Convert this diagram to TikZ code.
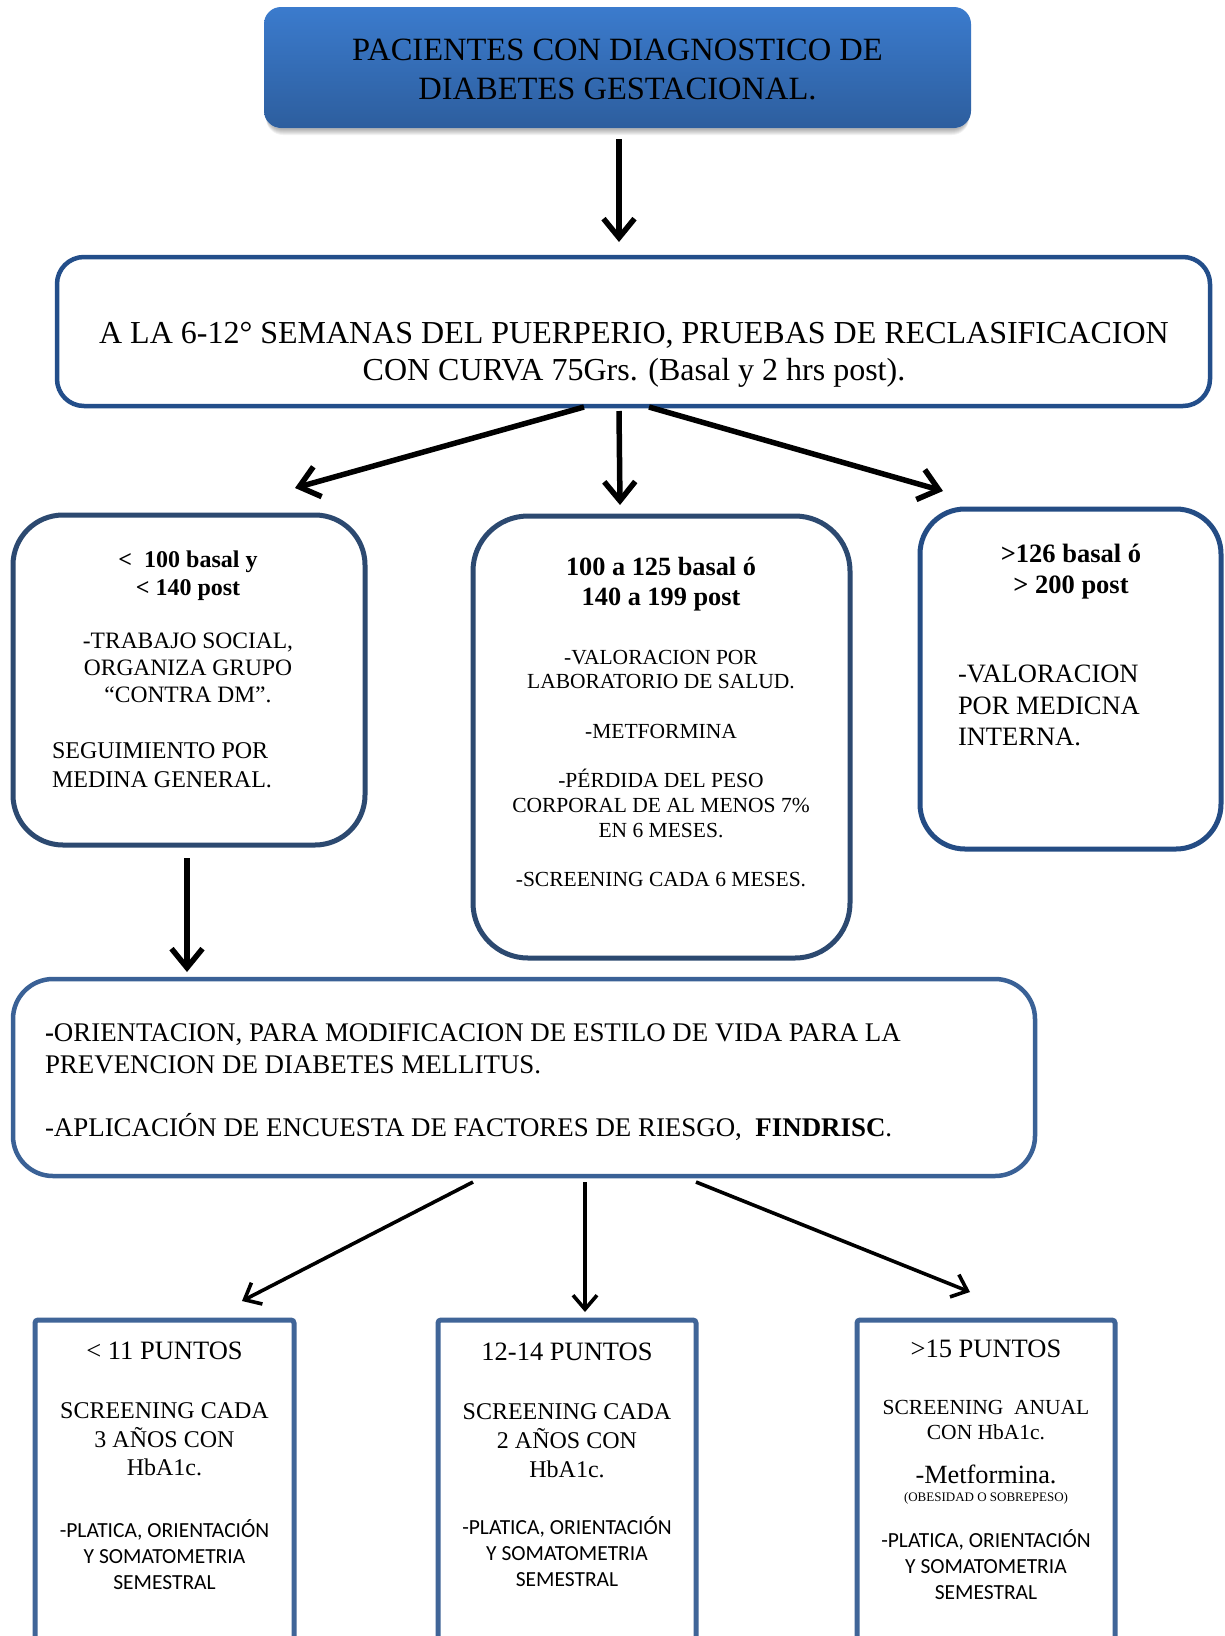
\documentclass[tikz,border=0pt]{standalone}
\usepackage{fontspec}
\setmainfont{Liberation Serif}
\newfontfamily\calib{Carlito}
\usetikzlibrary{arrows.meta}
\newcommand{\fsz}[2]{\fontsize{#1pt}{#2pt}\selectfont}
\definecolor{titletop}{HTML}{3B7BCD}
\definecolor{titlebot}{HTML}{2D5E9E}
\definecolor{navyA}{HTML}{234E8A}
\definecolor{navyB}{HTML}{2C4970}
\definecolor{navyC}{HTML}{244C84}
\definecolor{steelA}{HTML}{3A6196}
\definecolor{steelB}{HTML}{406598}
\tikzset{
  boxbase/.style={inner sep=0pt, outer sep=0pt, fill=white},
  txt/.style={inner sep=0pt, outer sep=0pt, align=center, anchor=north},
  txtl/.style={inner sep=0pt, outer sep=0pt, align=left, anchor=north west},
  bigarrow/.style={line width=5.5pt, -{Straight Barb[length=19pt,width=31pt]}},
  smallarrow/.style={line width=3.6pt, -{Straight Barb[length=14pt,width=24pt]}},
}
\begin{document}
\begin{tikzpicture}[x=1pt,y=-1pt]
\clip (0,0) rectangle (1225,1636);
\fill[white] (0,0) rectangle (1225,1636);

% title shadow
\foreach \s in {1,...,7} {\fill[black, opacity=0.05, rounded corners=17pt] (266,12) rectangle (969,128+\s);}
\node[boxbase, rounded corners=17pt, top color=titletop, bottom color=titlebot, draw=none,
      minimum width=707pt, minimum height=121pt] (title) at (617.5,67.5) {};
\node[inner sep=0pt, align=center, font=\fsz{32.5}{39}] (titletxt) at (617.5,69.5) {PACIENTES CON DIAGNOSTICO DE\\DIABETES GESTACIONAL.};

% second level
\node[boxbase, draw=navyA, line width=4.5pt, rounded corners=27pt, minimum width=1153pt, minimum height=149pt] (reclas) at (633.5,331.5) {};
\node[txt, font=\fsz{32}{36.5}] (reclastxt) at (634,322.5) {A LA 6-12° SEMANAS DEL PUERPERIO, PRUEBAS DE RECLASIFICACION\\CON CURVA 75Grs. (Basal y 2 hrs post).};

% third level boxes
\node[boxbase, draw=navyB, line width=5pt, rounded corners=50pt, minimum width=352pt, minimum height=330pt] (low) at (189,680) {};
\node[boxbase, draw=navyB, line width=5pt, rounded corners=55pt, minimum width=377pt, minimum height=442pt] (mid) at (661.5,737) {};
\node[boxbase, draw=navyC, line width=5pt, rounded corners=45pt, minimum width=301pt, minimum height=340pt] (high) at (1070.5,679) {};

\node[txt, font=\bfseries\fsz{24}{28}] (lowhead) at (188,551) {<\ \ 100 basal y\\< 140 post};
\node[txt, font=\fsz{23.5}{27}] (lowbody) at (188,633.2) {-TRABAJO SOCIAL,\\ORGANIZA GRUPO\\“CONTRA DM”.};
\node[txtl, font=\fsz{24}{29}] (lowfoot) at (52,743) {SEGUIMIENTO POR\\MEDINA GENERAL.};

\node[txt, font=\bfseries\fsz{26.3}{30}] (midhead) at (661,557.4) {100 a 125 basal ó\\140 a 199 post};
\node[txt, font=\fsz{21.5}{24.7}] (midbody) at (661,649.9) {-VALORACION POR\\LABORATORIO DE SALUD.\\[24.7pt]-METFORMINA\\[24.7pt]-PÉRDIDA DEL PESO\\CORPORAL DE AL MENOS 7\%\\EN 6 MESES.\\[24.7pt]-SCREENING CADA 6 MESES.};

\node[txt, font=\bfseries\fsz{26.5}{31}] (highhead) at (1071,544.3) {>126 basal ó\\> 200 post};
\node[txtl, font=\fsz{26.5}{31.5}] (highbody) at (958,665.3) {-VALORACION\\POR MEDICNA\\INTERNA.};

% orientation box
\node[boxbase, draw=steelA, line width=4.5pt, rounded corners=40pt, minimum width=1022pt, minimum height=197pt] (orient) at (524,1077.5) {};
\node[txtl, font=\fsz{26.9}{31.5}] (orienttxt) at (45,1024) {\textbf{-}ORIENTACION, PARA MODIFICACION DE ESTILO DE VIDA PARA LA\\PREVENCION DE DIABETES MELLITUS.\\[31.5pt]-APLICACIÓN DE ENCUESTA DE FACTORES DE RIESGO, \ \textbf{FINDRISC}.};

% bottom boxes
\node[boxbase, draw=steelB, line width=5pt, rounded corners=3pt, minimum width=259pt, minimum height=400pt] (pa) at (164.5,1520) {};
\node[boxbase, draw=steelB, line width=5pt, rounded corners=3pt, minimum width=258pt, minimum height=400pt] (pb) at (567,1520) {};
\node[boxbase, draw=steelB, line width=5pt, rounded corners=3pt, minimum width=258pt, minimum height=400pt] (pc) at (986,1520) {};

\node[txt, font=\fsz{26.5}{30}] (pahead) at (164.5,1342) {< 11 PUNTOS};
\node[txt, font=\fsz{24}{28.5}] (pascr) at (164.5,1403) {SCREENING CADA\\3 AÑOS CON\\HbA1c.};
\node[txt, font=\calib\fsz{21.5}{26}] (paplat) at (164.5,1519.2) {-PLATICA, ORIENTACIÓN\\Y SOMATOMETRIA\\SEMESTRAL};

\node[txt, font=\fsz{26.5}{30}] (pbhead) at (567,1343.3) {12-14 PUNTOS};
\node[txt, font=\fsz{24}{29}] (pbscr) at (567,1403.8) {SCREENING CADA\\2 AÑOS CON\\HbA1c.};
\node[txt, font=\calib\fsz{21.5}{26}] (pbplat) at (567,1516.7) {-PLATICA, ORIENTACIÓN\\Y SOMATOMETRIA\\SEMESTRAL};

\node[txt, font=\fsz{26.5}{30}] (pchead) at (986,1340.3) {>15 PUNTOS};
\node[txt, font=\fsz{21.5}{25}] (pcscr) at (986,1400) {SCREENING\ \ ANUAL\\CON HbA1c.};
\node[txt, font=\fsz{26.3}{30}] (pcmet) at (986,1465) {-Metformina.};
\node[txt, font=\fsz{13}{15}] (pcobs) at (986,1492) {(OBESIDAD O SOBREPESO)};
\node[txt, font=\calib\fsz{21.5}{26}] (pcplat) at (986,1529.2) {-PLATICA, ORIENTACIÓN\\Y SOMATOMETRIA\\SEMESTRAL};

% arrow end points
\coordinate (a0s) at (619,139);   \coordinate (a0e) at (619,242);
\coordinate (a1s) at (584,407);   \coordinate (a1e) at (295,488);
\coordinate (a2s) at (619,411);   \coordinate (a2e) at (620,505);
\coordinate (a3s) at (649,407);   \coordinate (a3e) at (943,491);
\coordinate (a4s) at (187,858);   \coordinate (a4e) at (187,972);
\coordinate (b1s) at (473,1182);  \coordinate (b1e) at (242,1301);
\coordinate (b2s) at (585,1182);  \coordinate (b2e) at (585,1312);
\coordinate (b3s) at (696,1182);  \coordinate (b3e) at (970,1292);

\draw[bigarrow] (a0s) -- (a0e);
\draw[bigarrow] (a1s) -- (a1e);
\draw[bigarrow] (a2s) -- (a2e);
\draw[bigarrow] (a3s) -- (a3e);
\draw[bigarrow] (a4s) -- (a4e);
\draw[smallarrow] (b1s) -- (b1e);
\draw[smallarrow] (b2s) -- (b2e);
\draw[smallarrow] (b3s) -- (b3e);
\end{tikzpicture}
\end{document}
